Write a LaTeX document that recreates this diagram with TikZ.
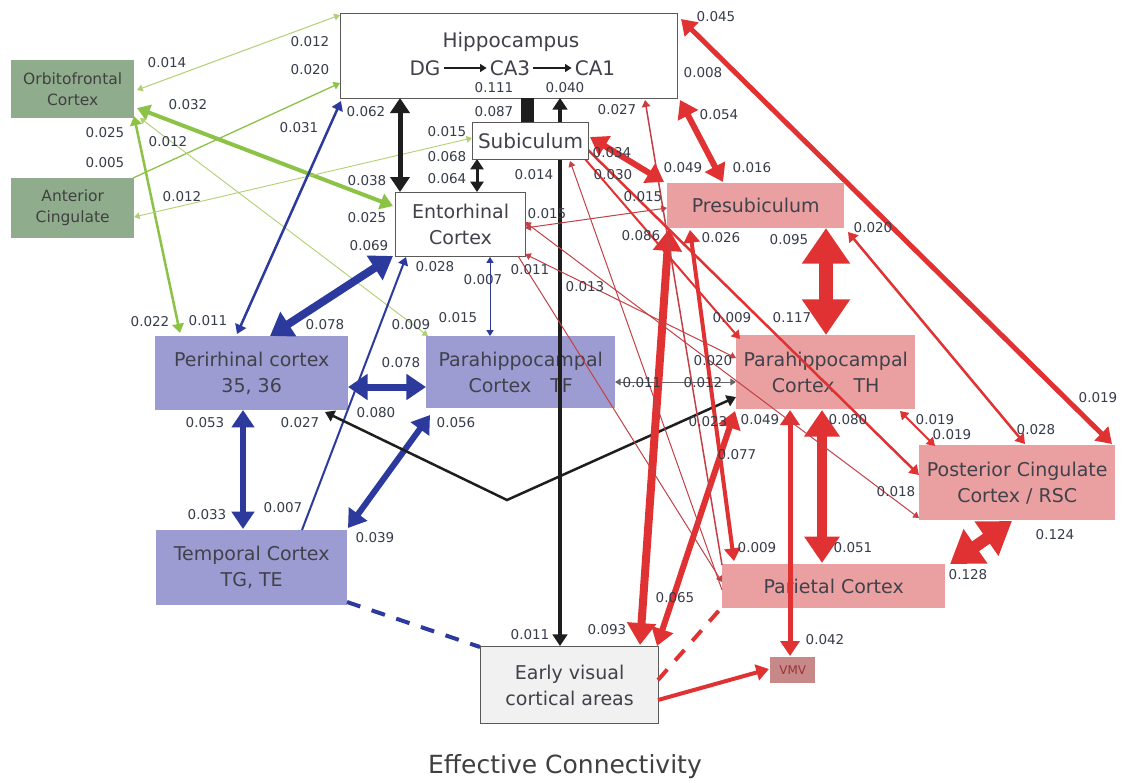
\documentclass[tikz,border=0pt]{standalone}
\usepackage{fontspec}
\setmainfont{DejaVu Sans}
\usetikzlibrary{arrows.meta}
\pgfdeclarelayer{bgl}
\pgfdeclarelayer{midl}
\pgfsetlayers{bgl,midl,main}
\definecolor{cGL}{RGB}{140,195,70}
\definecolor{cGT}{RGB}{178,208,115}
\definecolor{cGB}{RGB}{143,173,140}
\definecolor{cBL}{RGB}{44,58,158}
\definecolor{cBB}{RGB}{156,156,210}
\definecolor{cRL}{RGB}{224,50,50}
\definecolor{cRT}{RGB}{195,65,70}
\definecolor{cRB}{RGB}{234,160,160}
\definecolor{cKL}{RGB}{30,30,30}
\definecolor{cEV}{RGB}{241,241,241}
\definecolor{cTX}{RGB}{65,65,75}
\definecolor{cLB}{RGB}{55,60,75}
\newcommand\bxf{\fontsize{19}{26}\selectfont}
\newcommand\hxf{\fontsize{20}{26}\selectfont}
\newcommand\gxf{\fontsize{15.5}{21}\selectfont}
\newcommand\lbf{\fontsize{13.5}{15}\selectfont}
\newcommand\ttf{\fontsize{25}{28}\selectfont}
\begin{document}
\begin{tikzpicture}[x=1pt,y=-1pt,
  >={Triangle[length=3.5pt 2.3,width=4pt 3]},
  bxbase/.style={anchor=north west, inner sep=2pt, align=center, text=cTX, font=\bxf},
  bxW/.style={bxbase, draw=black!65, line width=1.2pt, fill=white},
  bxG/.style={bxbase, fill=cGB, font=\gxf, text=black!75},
  bxB/.style={bxbase, fill=cBB},
  bxR/.style={bxbase, fill=cRB},
  bxE/.style={bxbase, fill=cEV, draw=black!65, line width=1.2pt},
  numlab/.style={font=\lbf, text=cLB, inner sep=0pt},
  lnG/.style={draw=cGL, line width=#1}, lnG/.default=1pt,
  lnGt/.style={draw=cGT, line width=#1}, lnGt/.default=1pt,
  lnB/.style={draw=cBL, line width=#1}, lnB/.default=1pt,
  lnK/.style={draw=cKL, line width=#1}, lnK/.default=1pt,
  lnR/.style={draw=cRL, line width=#1}, lnR/.default=1pt,
  lnRt/.style={draw=cRT, line width=#1}, lnRt/.default=1pt,
  dashA/.style={dash pattern=on 14pt off 12pt}
]
\begin{pgfonlayer}{bgl}
\useasboundingbox[fill=white] (0,0) rectangle (1126,782);
% ---------- boxes (background layer) ----------
\node[bxW, minimum width=337pt, minimum height=85pt] (hip) at (340,13) {};
\node[bxW, minimum width=130pt, minimum height=64pt] (ent) at (395,192) {Entorhinal\\Cortex};
\node[bxG, minimum width=123pt, minimum height=58pt] (ofc) at (11,60) {Orbitofrontal\\Cortex};
\node[bxG, minimum width=123pt, minimum height=60pt] (acc) at (11,178) {Anterior\\Cingulate};
\node[bxB, minimum width=193pt, minimum height=74pt] (per) at (155,336) {Perirhinal cortex\\35, 36};
\node[bxB, minimum width=189pt, minimum height=72pt] (tf) at (426,336) {Parahippocampal\\Cortex\quad TF};
\node[bxB, minimum width=191pt, minimum height=75pt] (tmp) at (156,530) {Temporal Cortex\\TG, TE};
\node[bxR, minimum width=177pt, minimum height=45pt] (pre) at (667,183) {Presubiculum};
\node[bxR, minimum width=179pt, minimum height=74pt] (th) at (736,335) {Parahippocampal\\Cortex\quad TH};
\node[bxR, minimum width=196pt, minimum height=75pt] (pcc) at (919,445) {Posterior Cingulate\\Cortex / RSC};
\node[bxR, minimum width=223pt, minimum height=44pt] (par) at (722,564) {Parietal Cortex};
\node[bxR, fill=cRB!85!black, minimum width=45pt, minimum height=26pt, font=\fontsize{12}{14}\selectfont, text=cRT!80!black] (vmv) at (770,657) {VMV};
\node[bxE, minimum width=178pt, minimum height=77pt] (ev) at (480,646) {Early visual\\cortical areas};
% hippocampus contents
\node[font=\hxf, text=cTX, inner sep=0pt] (hiptitle) at (511,42) {Hippocampus};
\node[font=\hxf, text=cTX, inner sep=3pt] (dg) at (425,68) {DG};
\node[font=\hxf, text=cTX, inner sep=3pt] (ca3) at (510,68) {CA3};
\node[font=\hxf, text=cTX, inner sep=3pt] (ca1) at (595,68) {CA1};
\draw[lnK=1.3pt, ->] (dg) -- (ca3);
\draw[lnK=1.3pt, ->] (ca3) -- (ca1);
\end{pgfonlayer}

% ---------- subiculum on top ----------
\node[bxW, line width=1pt, minimum width=116pt, minimum height=37pt, font=\hxf] (sub) at (472,122) {Subiculum};

\begin{pgfonlayer}{midl}
% ---------- green connectors ----------
\draw[lnGt=1pt, <->] ([shift={(126,30)}]ofc.north west) -- ([shift={(0,2)}]hip.north west);
\draw[lnG=1.3pt, ->] ([shift={(122,0)}]acc.north west) -- ([shift={(0,70)}]hip.north west);
\draw[lnG=4pt, <->] ([shift={(126,48)}]ofc.north west) -- ([shift={(-2,14)}]ent.north west);
\draw[lnG=2.5pt, <->] ([shift={(123,56)}]ofc.north west) -- ([shift={(25,-3)}]per.north west);
\draw[lnGt=0.9pt, <->] ([shift={(129,58)}]ofc.north west) -- ([shift={(2,0)}]tf.north west);
\draw[lnGt=0.9pt, <->] ([shift={(0,16)}]sub.north west) -- ([shift={(123,39)}]acc.north west);

% ---------- blue connectors ----------
\draw[lnB=2.5pt, <->] ([shift={(82,-2)}]per.north west) -- ([shift={(1,88)}]hip.north west);
\draw[lnB=8pt, <->] ([shift={(115,0)}]per.north west) -- ([shift={(-2,64)}]ent.north west);
\draw[lnB=2pt, ->] ([shift={(146,0)}]tmp.north west) -- ([shift={(11,65)}]ent.north west);
\draw[lnB=7pt, <->] ([shift={(193,51)}]per.north west) -- ([shift={(0,51)}]tf.north west);
\draw[lnB=1pt, <->] ([shift={(95,65)}]ent.north west) -- ([shift={(64,0)}]tf.north west);
\draw[lnB=6pt, <->] ([shift={(88,74)}]per.north west) -- ([shift={(87,-1)}]tmp.north west);
\draw[lnB=6pt, <->] ([shift={(4,79)}]tf.north west) -- ([shift={(192,-2)}]tmp.north west);
\draw[lnB=4pt, dashA] ([shift={(191,72)}]tmp.north west) -- ([shift={(0,1)}]ev.north west);

% ---------- black connectors ----------
\draw[lnK=5pt, <->] ([shift={(5,0)}]ent.north west) -- ([shift={(60,85)}]hip.north west);
\draw[lnK=3.5pt, <->] ([shift={(80,0)}]ev.north west) -- ([shift={(220,85)}]hip.north west);
\coordinate (kbend) at (507,500);
\draw[lnK=2.5pt, <->] ([shift={(170,76)}]per.north west) -- (kbend) -- ([shift={(0,62)}]th.north west);
\draw[draw=black!60, line width=0.9pt, <->] ([shift={(189,46)}]tf.north west) -- ([shift={(0,47)}]th.north west);
\draw[lnK=3pt, <->] ([shift={(5,37)}]sub.north west) -- ([shift={(82,0)}]ent.north west);
\draw[lnK=13pt] ([shift={(55,0)}]sub.north west) -- ([shift={(187,85)}]hip.north west);

% ---------- red connectors ----------
\draw[lnR=5pt, <->] ([shift={(341,6)}]hip.north west) -- ([shift={(193,-1)}]pcc.north west);
\draw[lnR=6pt, <->] ([shift={(340,87)}]hip.north west) -- ([shift={(56,-1)}]pre.north west);
\draw[lnR=2.5pt, <->] ([shift={(181,49)}]pre.north west) -- ([shift={(106,-1)}]pcc.north west);
\draw[lnR=14pt, <->] ([shift={(159,45)}]pre.north west) -- ([shift={(90,0)}]th.north west);
\draw[lnR=10pt, <->] ([shift={(86,75)}]th.north west) -- ([shift={(100,-1)}]par.north west);
\draw[lnR=5pt, <->] ([shift={(54,75)}]th.north west) -- ([shift={(20,-1)}]vmv.north west);
\draw[lnR=12pt, <->] ([shift={(228,0)}]par.north west) -- ([shift={(93,76)}]pcc.north west);
\draw[lnR=8pt, <->] ([shift={(160,-1)}]ev.north west) -- ([shift={(2,46)}]pre.north west);
\draw[lnR=6pt, <->] ([shift={(177,0)}]ev.north west) -- ([shift={(-1,76)}]th.north west);
\draw[lnR=4pt, <->] ([shift={(23,47)}]pre.north west) -- ([shift={(12,-3)}]par.north west);
\draw[lnR=4pt, ->] ([shift={(178,54)}]ev.north west) -- ([shift={(-1,12)}]vmv.north west);
\draw[lnR=4pt, dashA] ([shift={(178,34)}]ev.north west) -- ([shift={(0,43)}]par.north west);
\draw[lnRt=1.5pt, ->] ([shift={(0,1)}]par.north west) -- ([shift={(305,87)}]hip.north west);
\draw[lnRt=1pt, ->] ([shift={(0,26)}]par.north west) -- ([shift={(98,39)}]sub.north west);
\draw[lnR=2.5pt, ->] ([shift={(116,28)}]sub.north west) -- ([shift={(0,30)}]pcc.north west);
\draw[lnR=2pt, ->] ([shift={(113,37)}]sub.north west) -- ([shift={(4,4)}]th.north west);
\draw[lnR=2pt, <->] ([shift={(164,76)}]th.north west) -- ([shift={(16,1)}]pcc.north west);
\draw[lnRt=1pt, <->] ([shift={(130,36)}]ent.north west) -- ([shift={(0,25)}]pre.north west);
\draw[lnRt=1pt, <->] ([shift={(130,62)}]ent.north west) -- ([shift={(0,23)}]th.north west);
\draw[lnRt=1pt, <->] ([shift={(130,30)}]ent.north west) -- ([shift={(0,73)}]pcc.north west);
\draw[lnRt=1pt, ->] ([shift={(123,64)}]ent.north west) -- ([shift={(0,18)}]par.north west);
\draw[lnR=6pt, <->] ([shift={(118,15)}]sub.north west) -- ([shift={(-3,-1)}]pre.north west);
\end{pgfonlayer}

% ---------- numbers ----------
\node[numlab] (l1) at (167,63) {0.014};
\node[numlab] (l2) at (310,42) {0.012};
\node[numlab] (l3) at (310,70) {0.020};
\node[numlab] (l4) at (188,105) {0.032};
\node[numlab] (l5) at (105,133) {0.025};
\node[numlab] (l6) at (168,142) {0.012};
\node[numlab] (l7) at (105,163) {0.005};
\node[numlab] (l8) at (299,128) {0.031};
\node[numlab] (l9) at (182,197) {0.012};
\node[numlab] (l10) at (366,112) {0.062};
\node[numlab] (l11) at (367,181) {0.038};
\node[numlab] (l12) at (367,218) {0.025};
\node[numlab] (l13) at (369,246) {0.069};
\node[numlab] (l14) at (150,322) {0.022};
\node[numlab] (l15) at (208,321) {0.011};
\node[numlab] (l16) at (325,325) {0.078};
\node[numlab] (l17) at (435,267) {0.028};
\node[numlab] (l18) at (483,280) {0.007};
\node[numlab] (l19) at (411,325) {0.009};
\node[numlab] (l20) at (458,318) {0.015};
\node[numlab] (l21) at (401,363) {0.078};
\node[numlab] (l22) at (376,413) {0.080};
\node[numlab] (l23) at (205,423) {0.053};
\node[numlab] (l24) at (300,423) {0.027};
\node[numlab] (l25) at (456,423) {0.056};
\node[numlab] (l26) at (207,515) {0.033};
\node[numlab] (l27) at (283,508) {0.007};
\node[numlab] (l28) at (375,538) {0.039};
\node[numlab] (l29) at (494,88) {0.111};
\node[numlab] (l30) at (565,88) {0.040};
\node[numlab] (l31) at (494,112) {0.087};
\node[numlab] (l32) at (447,132) {0.015};
\node[numlab] (l33) at (447,157) {0.068};
\node[numlab] (l34) at (447,179) {0.064};
\node[numlab] (l35) at (534,175) {0.014};
\node[numlab] (l36) at (547,214) {0.015};
\node[numlab] (l37) at (530,270) {0.011};
\node[numlab] (l38) at (585,287) {0.013};
\node[numlab] (l39) at (617,110) {0.027};
\node[numlab] (l40) at (612,153) {0.034};
\node[numlab] (l41) at (613,175) {0.030};
\node[numlab] (l42) at (643,197) {0.015};
\node[numlab] (l43) at (641,236) {0.086};
\node[numlab] (l44) at (683,168) {0.049};
\node[numlab] (l45) at (752,168) {0.016};
\node[numlab] (l46) at (719,115) {0.054};
\node[numlab] (l47) at (703,73) {0.008};
\node[numlab] (l48) at (716,17) {0.045};
\node[numlab] (l49) at (721,238) {0.026};
\node[numlab] (l50) at (789,240) {0.095};
\node[numlab] (l51) at (873,228) {0.020};
\node[numlab] (l52) at (732,318) {0.009};
\node[numlab] (l53) at (792,318) {0.117};
\node[numlab] (l54) at (713,361) {0.020};
\node[numlab] (l55) at (642,383) {0.011};
\node[numlab] (l56) at (703,383) {0.012};
\node[numlab] (l57) at (708,422) {0.023};
\node[numlab] (l58) at (760,420) {0.049};
\node[numlab] (l59) at (848,420) {0.080};
\node[numlab] (l60) at (737,455) {0.077};
\node[numlab] (l61) at (935,420) {0.019};
\node[numlab] (l62) at (952,435) {0.019};
\node[numlab] (l63) at (1036,430) {0.028};
\node[numlab] (l64) at (1098,398) {0.019};
\node[numlab] (l65) at (896,492) {0.018};
\node[numlab] (l66) at (1055,535) {0.124};
\node[numlab] (l67) at (968,575) {0.128};
\node[numlab] (l68) at (757,548) {0.009};
\node[numlab] (l69) at (853,548) {0.051};
\node[numlab] (l70) at (675,598) {0.065};
\node[numlab] (l71) at (607,630) {0.093};
\node[numlab] (l72) at (530,635) {0.011};
\node[numlab] (l73) at (825,640) {0.042};

\node[font=\ttf, text=black!75, inner sep=0pt] (title) at (565,767) {Effective Connectivity};
\end{tikzpicture}
\end{document}
